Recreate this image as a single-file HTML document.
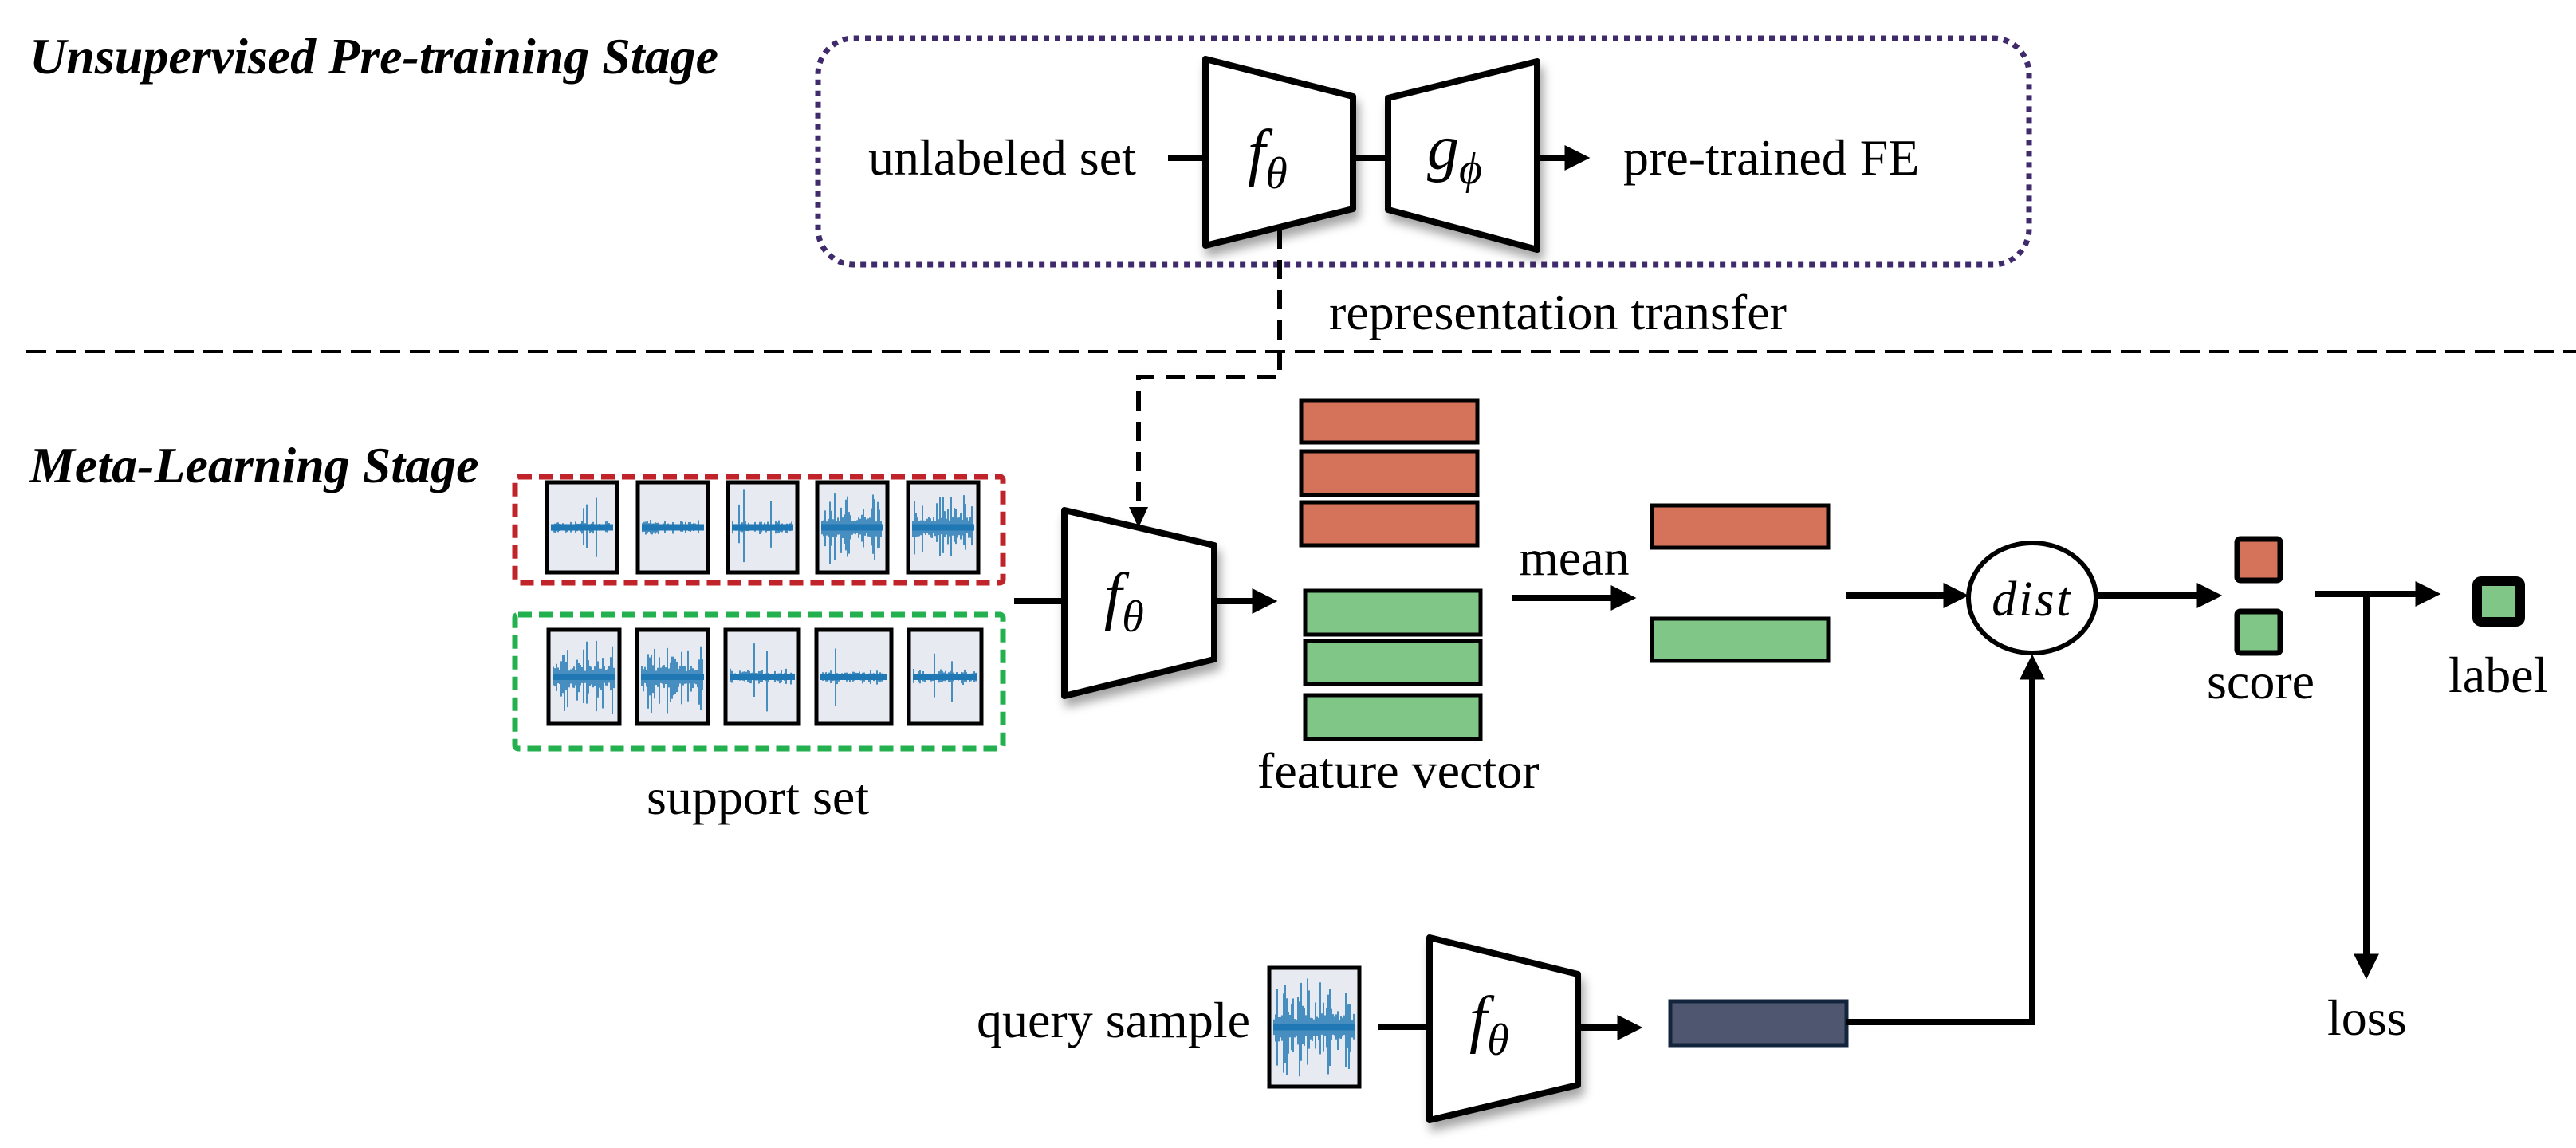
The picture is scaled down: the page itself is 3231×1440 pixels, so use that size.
<!DOCTYPE html>
<html><head><meta charset="utf-8"><style>
html,body{margin:0;padding:0;background:#fff}
svg{display:block}
text{font-family:"Liberation Serif",serif;fill:#000}
</style></head><body>
<svg id="s" width="3231" height="1440" viewBox="0 0 3231 1440" xmlns="http://www.w3.org/2000/svg">
<defs>
<marker id="ah" markerWidth="4" markerHeight="4" refX="2.2" refY="2" orient="auto" markerUnits="strokeWidth"><path d="M0,0 L4,2 L0,4 z" fill="#000"/></marker>
<marker id="ah2" markerWidth="6" markerHeight="6" refX="3" refY="3" orient="auto" markerUnits="strokeWidth"><path d="M0,0 L6,3 L0,6 z" fill="#000"/></marker>
<filter id="sh" x="-20%" y="-20%" width="150%" height="150%"><feDropShadow dx="4" dy="10" stdDeviation="6" flood-color="#000" flood-opacity="0.35"/></filter>
</defs>

<!-- titles -->
<text x="37" y="92" font-size="64" font-weight="bold" font-style="italic">Unsupervised Pre-training Stage</text>
<text x="37" y="605" font-size="64" font-weight="bold" font-style="italic">Meta-Learning Stage</text>

<!-- purple dotted box -->
<rect x="1026" y="48" width="1519" height="284" rx="45" fill="none" stroke="#3f2a6b" stroke-width="7" stroke-dasharray="7 7"/>

<text x="1089" y="219" font-size="64">unlabeled set</text>
<line x1="1465" y1="198" x2="1514" y2="198" stroke="#000" stroke-width="8"/>
<polygon points="1512,74 1697,121 1697,262 1512,308" fill="#fff" stroke="#000" stroke-width="8" stroke-linejoin="round" filter="url(#sh)"/>
<text x="1565" y="218" font-size="80" font-style="italic">f<tspan font-size="56" dy="18">θ</tspan></text>
<line x1="1697" y1="198" x2="1743" y2="198" stroke="#000" stroke-width="8"/>
<polygon points="1741,123 1928,77 1928,313 1741,263" fill="#fff" stroke="#000" stroke-width="8" stroke-linejoin="round" filter="url(#sh)"/>
<text x="1790" y="212" font-size="80" font-style="italic">g<tspan font-size="56" dy="18">ϕ</tspan></text>
<line x1="1928" y1="198" x2="1980" y2="198" stroke="#000" stroke-width="8" marker-end="url(#ah)"/>
<text x="2036" y="219" font-size="64">pre-trained FE</text>

<!-- representation transfer -->
<text x="1667" y="413" font-size="64">representation transfer</text>
<line x1="33" y1="441" x2="3231" y2="441" stroke="#000" stroke-width="4" stroke-dasharray="25 12"/>
<path d="M1605,288 L1605,473 L1428,473 L1428,640" fill="none" stroke="#000" stroke-width="6" stroke-dasharray="24 14"/>
<path d="M1416,636 L1440,636 L1428,662 z" fill="#000"/>

<!-- support set -->
<rect x="646" y="598" width="612" height="133" rx="4" fill="none" stroke="#c0232a" stroke-width="7" stroke-dasharray="17 9"/>
<rect x="646" y="771" width="612" height="168" rx="4" fill="none" stroke="#23b04e" stroke-width="7" stroke-dasharray="17 9"/>
<g id="thumbs"></g>
<text x="811" y="1021" font-size="64">support set</text>

<!-- meta f -->
<line x1="1272" y1="754" x2="1337" y2="754" stroke="#000" stroke-width="8"/>
<polygon points="1335,640 1523,684 1523,827 1335,873" fill="#fff" stroke="#000" stroke-width="8" stroke-linejoin="round" filter="url(#sh)"/>
<text x="1385" y="774" font-size="80" font-style="italic">f<tspan font-size="56" dy="18">θ</tspan></text>
<line x1="1523" y1="754" x2="1588" y2="754" stroke="#000" stroke-width="8" marker-end="url(#ah)"/>

<!-- feature vectors -->
<g stroke="#000" stroke-width="5">
<rect x="1632" y="502" width="221" height="53" fill="#d4725a"/>
<rect x="1632" y="566" width="221" height="55" fill="#d4725a"/>
<rect x="1632" y="630" width="221" height="54" fill="#d4725a"/>
<rect x="1637" y="741" width="220" height="55" fill="#80c686"/>
<rect x="1637" y="804" width="220" height="54" fill="#80c686"/>
<rect x="1637" y="872" width="220" height="55" fill="#80c686"/>
<rect x="2072" y="634" width="221" height="53" fill="#d4725a"/>
<rect x="2072" y="776" width="221" height="53" fill="#80c686"/>
</g>
<text x="1577" y="988" font-size="64">feature vector</text>
<text x="1905" y="721" font-size="64">mean</text>
<line x1="1896" y1="750" x2="2038" y2="750" stroke="#000" stroke-width="8" marker-end="url(#ah)"/>

<!-- dist -->
<line x1="2315" y1="747" x2="2455" y2="747" stroke="#000" stroke-width="8" marker-end="url(#ah)"/>
<ellipse cx="2549" cy="750" rx="80" ry="69" fill="#fff" stroke="#000" stroke-width="6"/>
<text x="2549" y="772" font-size="62" font-style="italic" text-anchor="middle" letter-spacing="3">dist</text>
<line x1="2629" y1="747" x2="2773" y2="747" stroke="#000" stroke-width="8" marker-end="url(#ah)"/>

<!-- score -->
<rect x="2806" y="676" width="54" height="52" rx="4" fill="#d4725a" stroke="#000" stroke-width="7"/>
<rect x="2806" y="767" width="54" height="52" rx="4" fill="#80c686" stroke="#000" stroke-width="7"/>
<text x="2768" y="876" font-size="64">score</text>
<line x1="2904" y1="745" x2="3047" y2="745" stroke="#000" stroke-width="8" marker-end="url(#ah)"/>
<line x1="2968" y1="745" x2="2968" y2="1214" stroke="#000" stroke-width="8" marker-end="url(#ah)"/>
<rect x="3107" y="729" width="54" height="51" rx="5" fill="#80c686" stroke="#000" stroke-width="12"/>
<text x="3071" y="868" font-size="64">label</text>
<text x="2919" y="1298" font-size="64">loss</text>

<!-- query -->
<text x="1225" y="1301" font-size="64">query sample</text>
<g id="qthumb"></g>
<line x1="1729" y1="1288" x2="1794" y2="1288" stroke="#000" stroke-width="8"/>
<polygon points="1793,1176 1979,1222 1979,1361 1793,1405" fill="#fff" stroke="#000" stroke-width="8" stroke-linejoin="round" filter="url(#sh)"/>
<text x="1843" y="1305" font-size="80" font-style="italic">f<tspan font-size="56" dy="18">θ</tspan></text>
<line x1="1979" y1="1289" x2="2046" y2="1289" stroke="#000" stroke-width="8" marker-end="url(#ah)"/>
<rect x="2095" y="1256" width="221" height="55" fill="#4f5670" stroke="#13253d" stroke-width="5"/>
<polyline points="2316,1282 2549,1282 2549,835" fill="none" stroke="#000" stroke-width="8" marker-end="url(#ah)"/>
</svg>
<script>
(function(){
var NS="http://www.w3.org/2000/svg";
var seed=7;function r(){seed=(seed*9301+49297)%233280;return seed/233280;}
function thumb(g,x,y,w,h,dense){
 var bg=document.createElementNS(NS,"rect");
 bg.setAttribute("x",x);bg.setAttribute("y",y);bg.setAttribute("width",w);bg.setAttribute("height",h);
 bg.setAttribute("fill","#e8eaf2");bg.setAttribute("stroke","#000");bg.setAttribute("stroke-width","5");g.appendChild(bg);
 var mid=y+h/2, d="";
 var n=Math.floor(w-12);
 for(var i=0;i<n;i+=2){
  var xx=x+6+i, a;
  if(dense){a=(r()<0.5?h*0.12:h*(0.15+r()*0.3));}else{a=h*(0.03+r()*0.06);if(r()<0.03)a=h*(0.25+r()*0.2);}
  d+="M"+xx+","+(mid-a*(0.5+r()*0.5))+"L"+xx+","+(mid+a*(0.5+r()*0.5));
 }
 var p=document.createElementNS(NS,"path");p.setAttribute("d",d);p.setAttribute("stroke","#1f77b4");p.setAttribute("stroke-width","1.6");p.setAttribute("fill","none");g.appendChild(p);
 var b=document.createElementNS(NS,"rect");b.setAttribute("x",x+5);b.setAttribute("y",mid-4);b.setAttribute("width",w-10);b.setAttribute("height",8);b.setAttribute("fill","#1f77b4");g.appendChild(b);
}
var g=document.getElementById("thumbs");
var red=[[686,88,false],[800,88,false],[913,87,false],[1025,88,true],[1139,88,true]];
red.forEach(function(t){thumb(g,t[0],605,t[1],113,t[2]);});
var gr=[[688,89,true],[799,89,true],[910,92,false],[1024,94,false],[1140,91,false]];
gr.forEach(function(t){thumb(g,t[0],790,t[1],118,t[2]);});
thumb(document.getElementById("qthumb"),1592,1214,113,149,true);
})();
</script>
</body></html>
